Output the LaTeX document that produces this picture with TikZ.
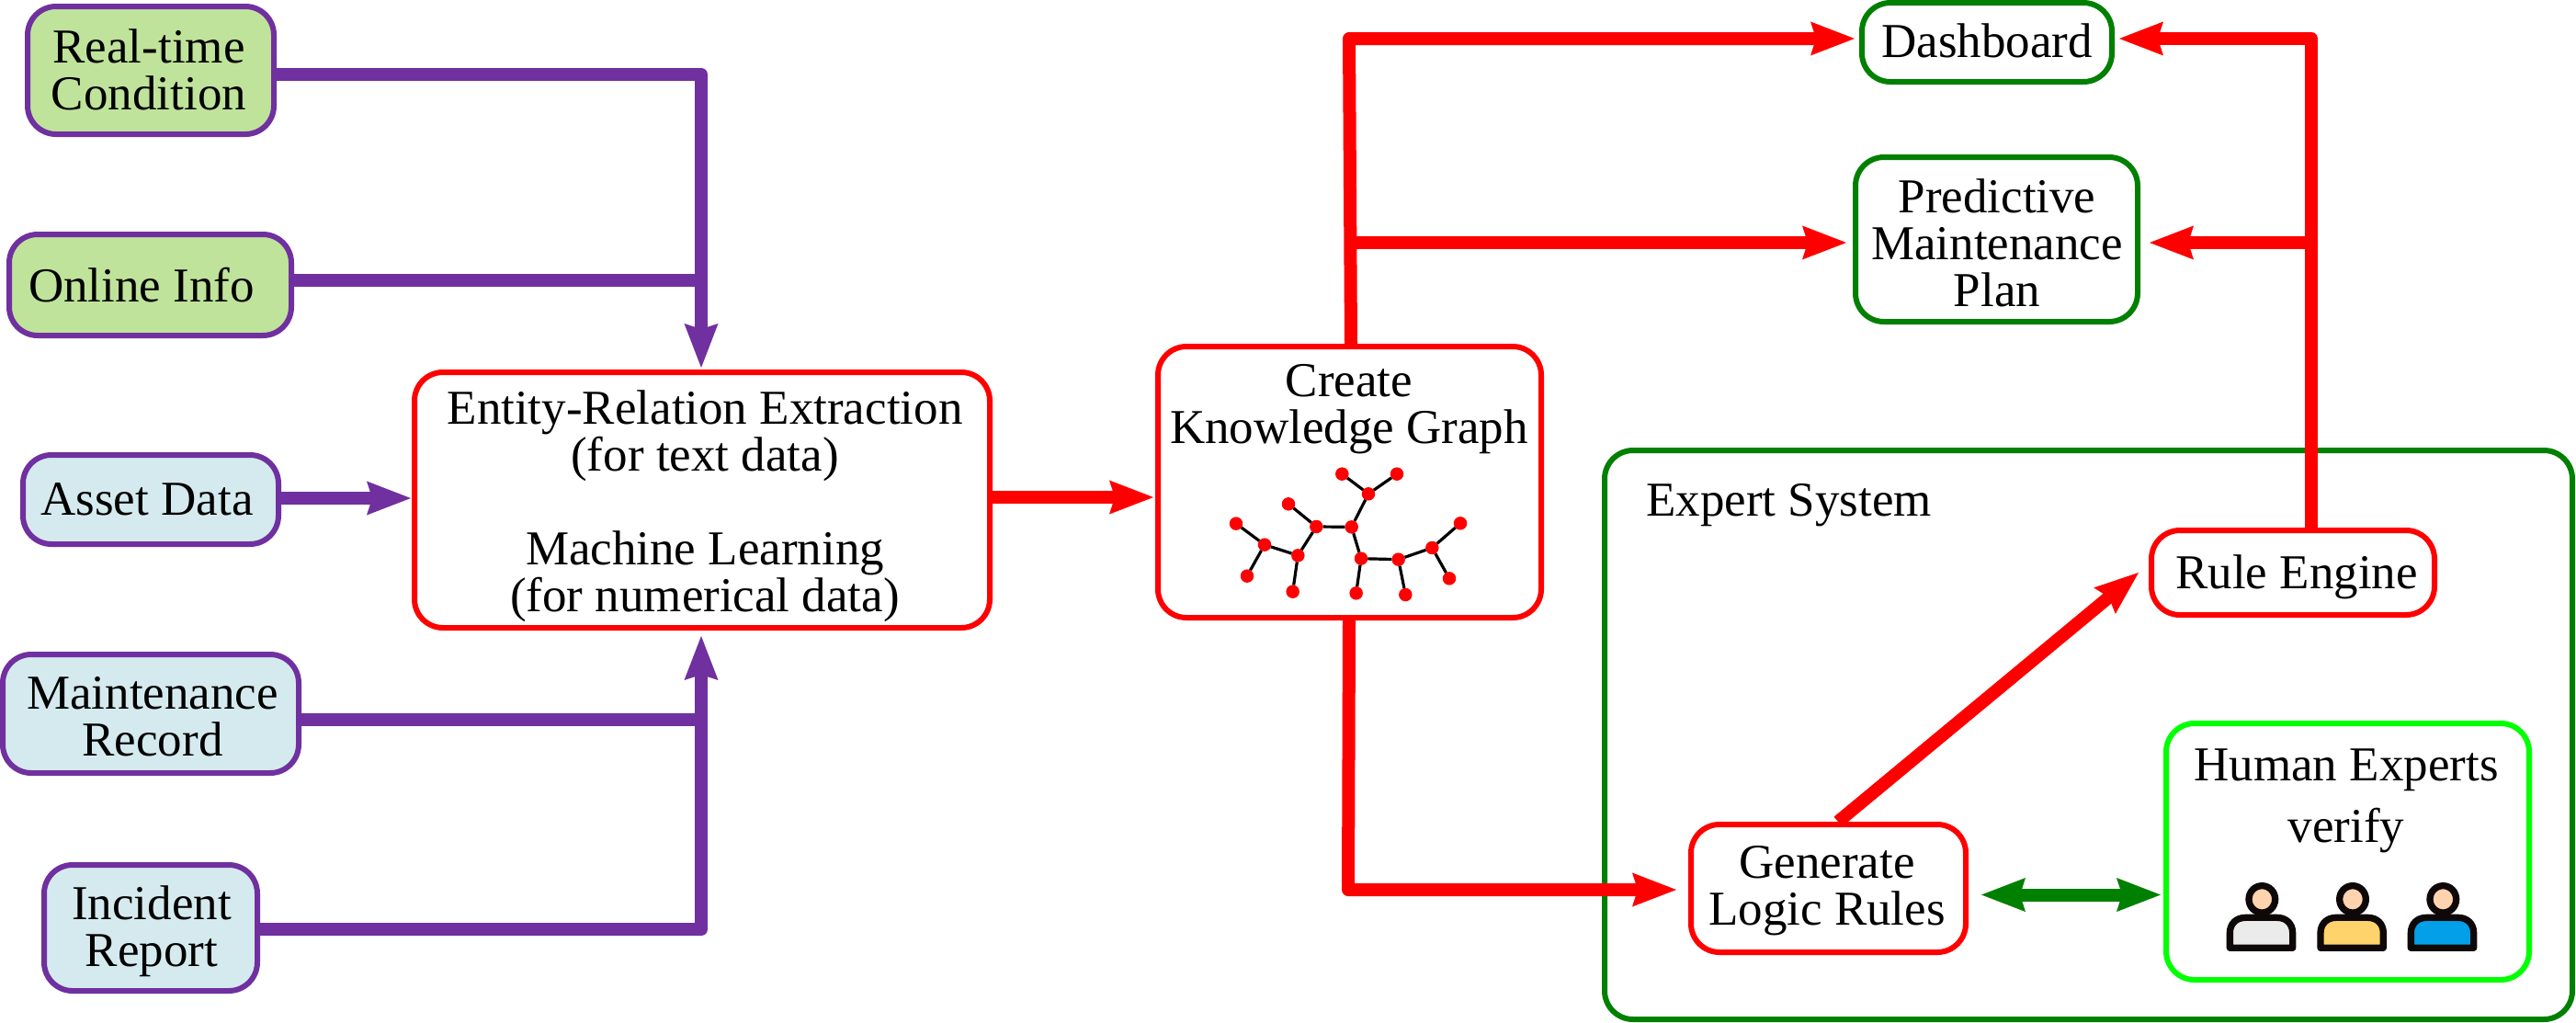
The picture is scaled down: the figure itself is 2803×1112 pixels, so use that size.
\documentclass[tikz,border=0pt]{standalone}
\usepackage{fontspec}
\setmainfont{Liberation Serif}
\usetikzlibrary{arrows.meta,calc}
\definecolor{lpurple}{HTML}{7030A0}
\definecolor{lgreenfill}{HTML}{BFE39A}
\definecolor{lbluefill}{HTML}{D5EAEE}
\definecolor{dgreen}{HTML}{008000}
\definecolor{lime}{HTML}{00FF00}
\definecolor{skin}{HTML}{FFD3AE}
\definecolor{inkblack}{HTML}{0F0808}
\definecolor{bodygray}{HTML}{EBEBEB}
\definecolor{bodyyellow}{HTML}{FFD36B}
\definecolor{bodyblue}{HTML}{039FE8}
\tikzset{
  boxbase/.style={rectangle,rounded corners=31pt,inner sep=0pt,line width=6pt,fill=white},
  srcgreen/.style={boxbase,draw=lpurple,fill=lgreenfill},
  srcblue/.style={boxbase,draw=lpurple,fill=lbluefill},
  redbox/.style={boxbase,draw=red},
  greenbox/.style={boxbase,draw=dgreen},
  limebox/.style={boxbase,draw=lime},
  txt/.style={font=\fontsize{53}{51}\selectfont,align=center,anchor=base,inner sep=0pt,text=black,yshift=-1pt},
  conn/.style={line width=14pt,line join=round},
  purpline/.style={conn,draw=lpurple},
  redline/.style={conn,draw=red},
  bigtip/.style={-{Stealth[length=48pt,width=37pt,inset=6pt,line width=0pt]}},
  twotips/.style={{Stealth[length=48pt,width=37pt,inset=6pt,line width=0pt]}-{Stealth[length=48pt,width=37pt,inset=6pt,line width=0pt]}},
  treedot/.style={circle,fill=red,minimum size=14.5pt,inner sep=0pt,outer sep=0pt},
  treeedge/.style={draw=black,line width=3.2pt},
  personbody/.style={draw=inkblack,line width=7.3pt,line join=round},
}
\begin{document}
\begin{tikzpicture}[x=1pt,y=-1pt]
\useasboundingbox (0,0) rectangle (2803,1112);
\fill[white] (0,0) rectangle (2803,1112);

% containers and boxes
\node[greenbox,minimum width=1053pt,minimum height=619pt] (expert) at (2272.5,799.5) {};
\node[srcgreen,minimum width=268pt,minimum height=139pt] (rtb) at (164,76.5) {};
\node[srcgreen,minimum width=307pt,minimum height=110pt] (onb) at (163.5,310) {};
\node[srcblue,minimum width=278pt,minimum height=97pt] (asb) at (164,543.5) {};
\node[srcblue,minimum width=322pt,minimum height=129pt] (mab) at (164,776.5) {};
\node[srcblue,minimum width=232pt,minimum height=137pt] (inb) at (164,1009.5) {};
\node[redbox,minimum width=626pt,minimum height=278pt] (ent) at (764,544) {};
\node[redbox,minimum width=417pt,minimum height=295pt] (kg) at (1468.5,524.5) {};
\node[greenbox,minimum width=272pt,minimum height=86pt] (dash) at (2162,46) {};
\node[greenbox,minimum width=307pt,minimum height=179pt] (plan) at (2172.5,260.5) {};
\node[redbox,minimum width=299pt,minimum height=139pt] (gen) at (1989.5,966.5) {};
\node[redbox,minimum width=308pt,minimum height=92pt] (rule) at (2495,623) {};
\node[limebox,minimum width=395pt,minimum height=279pt] (hum) at (2554.5,926.5) {};

% texts
\node[txt] (rtt) at (162,118) {Real-time\\Condition};
\node[txt] (ont) at (154,327) {Online Info};
\node[txt] (ast) at (160,559) {Asset Data};
\node[txt] (mat) at (166,821) {Maintenance\\Record};
\node[txt] (int) at (165,1050) {Incident\\Report};
\node[txt] (entt) at (767,664) {Entity-Relation Extraction\\(for text data)\\[51pt]Machine Learning\\(for numerical data)};
\node[txt] (kgt) at (1468,481) {Create\\Knowledge Graph};
\node[txt] (dat) at (2162,61) {Dashboard};
\node[txt] (plt) at (2173,332) {Predictive\\Maintenance\\Plan};
\node[txt,anchor=base west] (ext) at (1791,560) {Expert System};
\node[txt] (get) at (1988,1005.5) {Generate\\Logic Rules};
\node[txt] (rut) at (2499,639) {Rule Engine};
\node[txt] (hut) at (2553,915) {Human Experts\\[16pt]verify};

% junctions
\coordinate (jtop) at (763,81);
\coordinate (jon) at (763,305);
\coordinate (jma) at (763,783);
\coordinate (jbot) at (763,1011);
\coordinate (ja) at (1468,42);
\coordinate (jb) at (1469,264);
\coordinate (jc) at (1467,968);
\coordinate (jd) at (2515,42);
\coordinate (je) at (2515,264);

% purple connectors
\draw[purpline,bigtip,shorten >=2pt] (rtb.east |- jtop) -- (jtop) -- (ent.north -| jtop);
\draw[purpline] (onb.east |- jon) -- (jon);
\draw[purpline,bigtip,shorten >=1pt] (asb.east |- 0,542) -- (ent.west |- 0,542);
\draw[purpline] (mab.east |- jma) -- (jma);
\draw[purpline,bigtip,shorten >=6pt] (inb.east |- jbot) -- (jbot) -- (ent.south -| jbot);

% red connectors
\draw[redline,bigtip,shorten >=2pt] (ent.east |- 0,541) -- (kg.west |- 0,541);
\draw[redline,bigtip,shorten >=5pt] (kg.north -| 1470,0) -- (ja) -- (dash.west |- ja);
\draw[redline,bigtip,shorten >=7pt] (jb) -- (plan.west |- jb);
\draw[redline,bigtip,shorten >=13pt] (kg.south -| 1468,0) -- (jc) -- (gen.west |- jc);
\draw[redline,bigtip] (gen.north -| 2000,0) -- (2327,623);
\draw[redline,bigtip,shorten >=5pt] (rule.north -| jd) -- (jd) -- (dash.east |- jd);
\draw[redline,bigtip,shorten >=10pt] (je) -- (plan.east |- je);
\draw[conn,draw=dgreen,twotips,shorten <=14pt,shorten >=3pt] (gen.east |- 0,973.5) -- (hum.west |- 0,973.5);

% knowledge graph tree
\begin{scope}[shift={(1250,360)},x=0.33333pt,y=-0.33333pt]
\node[treedot] (a) at (631,467) {};
\node[treedot] (b) at (810,467) {};
\node[treedot] (c) at (717,532) {};
\node[treedot] (d) at (662,640) {};
\node[treedot] (e) at (547,639) {};
\node[treedot] (f) at (456,565) {};
\node[treedot] (g) at (487,733) {};
\node[treedot] (h) at (378,698) {};
\node[treedot] (i) at (285,629) {};
\node[treedot] (j) at (321,800) {};
\node[treedot] (k) at (470,851) {};
\node[treedot] (l) at (693,743) {};
\node[treedot] (m) at (815,746) {};
\node[treedot] (n) at (925,708) {};
\node[treedot] (o) at (1017,628) {};
\node[treedot] (p) at (981,808) {};
\node[treedot] (q) at (677,856) {};
\node[treedot] (r) at (838,861) {};
\foreach \s/\t in {a/c,b/c,c/d,d/e,e/f,e/g,g/h,h/i,h/j,g/k,d/l,l/m,m/n,n/o,n/p,l/q,m/r}
  \draw[treeedge] (\s) -- (\t);
\end{scope}

% three human figures
\begin{scope}[shift={(2340,770)},x=0.33333pt,y=-0.33333pt]
\foreach \dx/\col in {0/bodygray,296/bodyyellow,591/bodyblue}{
  \begin{scope}[shift={(\dx,0)}]
  \draw[personbody,fill=\col]
    (259,784) -- (259,735) .. controls (259,705) and (280,685) .. (310,685)
    -- (413,685) .. controls (443,685) and (464,705) .. (464,735) -- (464,784) -- cycle;
  \draw[personbody,fill=skin] (364,625) ellipse [x radius=43,y radius=44];
  \end{scope}
}
\end{scope}
\end{tikzpicture}
\end{document}
